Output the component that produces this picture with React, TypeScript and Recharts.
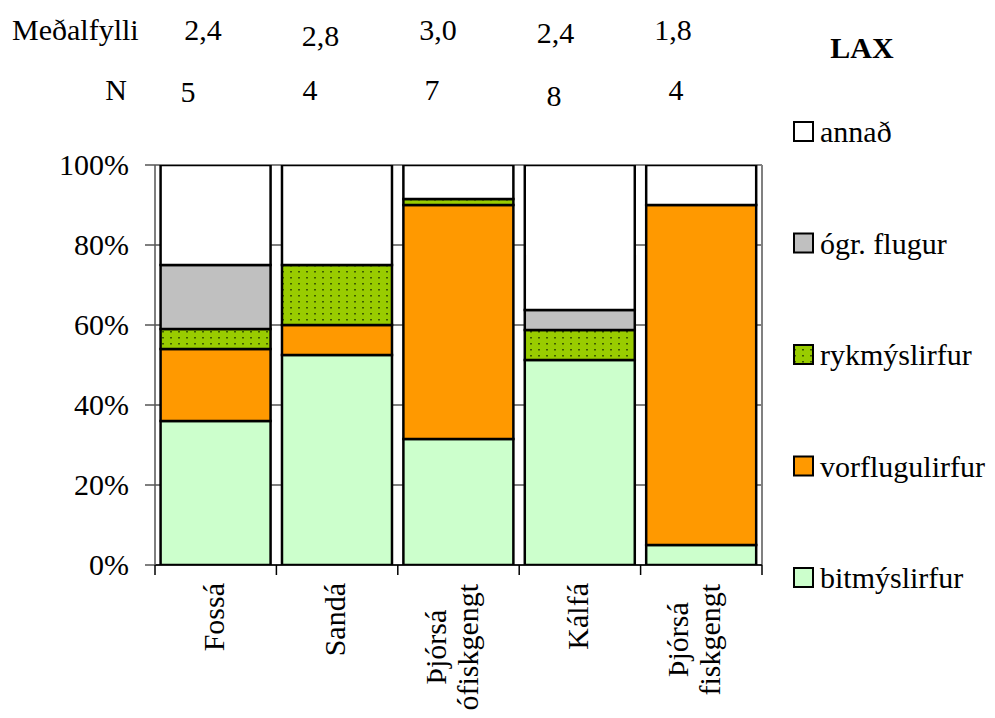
import React from 'react';
import { BarChart, Bar, XAxis, YAxis, CartesianGrid } from 'recharts';

const categories = ['Fossá', 'Sandá', 'Þjórsá\nófiskgengt', 'Kálfá', 'Þjórsá\nfiskgengt'];
const bitmyslirfur = [36, 52.5, 31.5, 51.25, 5];
const vorflugulirfur = [18, 7.5, 58.5, 0, 85];
const rykmyslirfur = [5, 15, 1.5, 7.5, 0];
const ogrFlugur = [16, 0, 0, 5, 0];
const annad = [25, 25, 8.5, 36.25, 10];
const medalfylli = ['2,4', '2,8', '3,0', '2,4', '1,8'];
const nValues = [5, 4, 7, 8, 4];
const yTicks = [0, 20, 40, 60, 80, 100];

const series = [
  { key: 'bitmyslirfur', name: 'bitmýslirfur', values: bitmyslirfur, fill: '#CCFFCC' },
  { key: 'vorflugulirfur', name: 'vorflugulirfur', values: vorflugulirfur, fill: '#FF9900' },
  { key: 'rykmyslirfur', name: 'rykmýslirfur', values: rykmyslirfur, fill: 'url(#dotsPattern)' },
  { key: 'ogrFlugur', name: 'ógr. flugur', values: ogrFlugur, fill: '#C0C0C0' },
  { key: 'annad', name: 'annað', values: annad, fill: '#FFFFFF' },
];

const data = categories.map((c, i) => {
  const row: any = { name: c };
  series.forEach((s) => (row[s.key] = s.values[i]));
  return row;
});

const FONT = 'Times New Roman';
const FS = 30;
const W = 995;
const H = 718;
const PLOT_L = 155;
const PLOT_R = 762;
const PLOT_T = 165;
const PLOT_B = 565;
const BAND = (PLOT_R - PLOT_L) / categories.length;

function measure(text: string): number {
  let w = 0;
  for (const ch of text) {
    if ('ilj'.includes(ch)) w += 0.278;
    else if ('frt'.includes(ch)) w += 0.333;
    else if (ch === 's') w += 0.389;
    else if ('ecaá'.includes(ch)) w += 0.444;
    else if (ch === 'K') w += 0.722;
    else if (ch === 'F' || ch === 'Þ' || ch === 'S') w += 0.556;
    else w += 0.5;
  }
  return w * FS;
}

const XTick = (props: any) => {
  const { x, payload, index } = props;
  const lines: string[] = String(payload.value).split('\n');
  const maxLen = Math.max(...lines.map(measure));
  const top = PLOT_B + 18;
  const lineGap = 32;
  const n = lines.length;
  const shift = n > 1 ? -7 : -2;
  const left = x - BAND / 2;
  return (
    <g>
      <line x1={left} y1={PLOT_B} x2={left} y2={PLOT_B + 10} stroke="#000" strokeWidth={1.5} />
      {index === categories.length - 1 && (
        <line x1={left + BAND} y1={PLOT_B} x2={left + BAND} y2={PLOT_B + 10} stroke="#000" strokeWidth={1.5} />
      )}
      {lines.map((ln, i) => {
        const cx = x + shift + (i - (n - 1) / 2) * lineGap;
        const cy = top + maxLen / 2;
        return (
          <text
            key={i}
            transform={`translate(${cx + 10},${cy}) rotate(-90)`}
            textAnchor="middle"
            fontFamily={FONT}
            fontSize={FS}
            fill="#000"
          >
            {ln}
          </text>
        );
      })}
    </g>
  );
};

const YTick = (props: any) => {
  const { y, payload } = props;
  return (
    <text x={129} y={y + 10} textAnchor="end" fontFamily={FONT} fontSize={FS} fill="#000">
      {payload.value}%
    </text>
  );
};

export default function App() {
  const legendItems = [...series].reverse();
  return (
    <div style={{ position: 'relative', width: W, height: H, margin: '-8px 0 0 -8px', background: '#fff' }}>
      <BarChart
        width={W}
        height={H}
        data={data}
        margin={{ top: PLOT_T, right: W - PLOT_R, bottom: 3, left: 0 }}
        barCategoryGap="4.6%"
      >
        <CartesianGrid
          stroke="#808080"
          strokeWidth={2}
          verticalCoordinatesGenerator={() => [PLOT_R]}
        />
        <XAxis
          dataKey="name"
          height={H - PLOT_B - 3}
          tick={<XTick />}
          tickLine={false}
          axisLine={{ stroke: '#000', strokeWidth: 1.5 }}
          interval={0}
        />
        <YAxis
          domain={[0, 100]}
          ticks={yTicks}
          width={PLOT_L}
          tick={<YTick />}
          tickSize={10}
          tickLine={{ stroke: '#555', strokeWidth: 1.5 }}
          axisLine={{ stroke: '#555', strokeWidth: 1.5 }}
          allowDataOverflow
        />
        {series.map((s) => (
          <Bar
            key={s.key}
            dataKey={s.key}
            name={s.name}
            stackId="a"
            fill={s.fill}
            stroke="#000"
            strokeWidth={2.5}
            isAnimationActive={false}
          />
        ))}
      </BarChart>
      <svg width={W} height={H} style={{ position: 'absolute', left: 0, top: 0, pointerEvents: 'none' }}>
        <defs>
          <pattern id="dotsPattern" width="8" height="6" patternUnits="userSpaceOnUse">
            <rect width="8" height="6" fill="#99CC00" />
            <rect x="2" y="1" width="2" height="1.5" fill="#3d5c00" />
          </pattern>
        </defs>
        <text x={12} y={40} fontFamily={FONT} fontSize={FS} fill="#000">Meðalfylli</text>
        {medalfylli.map((v, i) => (
          <text key={'m' + i} x={203 + 117.5 * i} y={[40, 46, 40, 43, 40][i]} textAnchor="middle" fontFamily={FONT} fontSize={FS} fill="#000">
            {v}
          </text>
        ))}
        <text x={116} y={100} textAnchor="middle" fontFamily={FONT} fontSize={FS} fill="#000">N</text>
        {nValues.map((v, i) => (
          <text key={'n' + i} x={188 + 122 * i} y={[102, 100, 100, 106, 100][i]} textAnchor="middle" fontFamily={FONT} fontSize={FS} fill="#000">
            {v}
          </text>
        ))}
        <text x={862} y={58} textAnchor="middle" fontFamily={FONT} fontSize={FS} fontWeight="bold" fill="#000">LAX</text>
        {legendItems.map((s, i) => {
          const cy = 132 + i * 111.5;
          return (
            <g key={s.key}>
              <rect x={794} y={cy - 10} width={19} height={19} fill={s.fill} stroke="#000" strokeWidth={2} />
              <text x={820} y={cy + 10} fontFamily={FONT} fontSize={FS} fill="#000">{s.name}</text>
            </g>
          );
        })}
      </svg>
    </div>
  );
}
